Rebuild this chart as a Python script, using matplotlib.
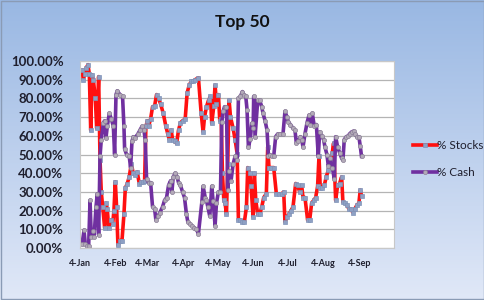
"""Top 50: % Stocks vs % Cash, recreated in matplotlib."""

import matplotlib
import matplotlib.pyplot as plt
import numpy as np
import pandas as pd

matplotlib.use("Agg")

# dias desde el 4 de enero y porcentaje
dias_stocks = [1.7, 2.9, 4.1, 5.2, 6.9, 8.1, 9.3, 10.4, 11.6, 13.3, 14.5, 16.2, 17.4,
               18.5, 19.7, 21.4, 22.6, 23.7, 24.9, 26.6, 28.4, 29.5, 30.7, 31.8, 33.0,
               34.7, 36.5, 38.2, 39.4, 41.1, 42.8, 44.6, 46.3, 48.1, 49.8, 51.5, 53.3,
               55.0, 56.2, 57.3, 58.6, 59.6, 61.4, 63.1, 64.9, 66.6, 68.3, 70.1, 72.4,
               74.7, 76.4, 77.6, 79.3, 80.5, 82.2, 84.0, 85.7, 87.4, 89.2, 91.5, 93.2,
               95.0, 96.7, 98.4, 100.2, 103.0, 105.4, 107.1, 108.3, 110.0, 111.8, 113.5,
               114.6, 116.4, 117.5, 118.7, 120.4, 121.6, 122.8, 123.9, 125.1, 126.2,
               127.4, 128.5, 129.7, 130.9, 133.2, 134.9, 136.7, 137.8, 139.5, 141.3,
               143.0, 144.8, 145.9, 147.7, 148.8, 150.6, 151.7, 152.9, 154.6, 156.3,
               158.1, 159.8, 162.1, 163.3, 164.4, 166.2, 168.5, 170.8, 173.1, 175.4,
               177.2, 178.3, 180.1, 181.8, 183.6, 185.3, 187.6, 189.3, 191.1, 192.8,
               194.0, 195.7, 198.0, 199.8, 201.5, 203.2, 205.0, 206.7, 207.9, 209.0,
               210.8, 212.5, 214.2, 216.0, 217.7, 219.5, 220.6, 222.4, 224.1, 225.8,
               227.6, 228.7, 230.5, 232.2, 233.9, 235.6, 237.4, 239.1, 240.9, 242.6,
               243.8, 244.9]
pct_stocks = [95, 90, 93, 96, 98, 93, 63, 92.5, 90, 80, 64, 91.6, 47,
              30, 22, 11, 24, 21, 11, 15, 13, 20, 35.4, 22, 1.4,
              4, 4, 18, 32, 34.5, 38, 45, 40, 39, 40.7, 34.5, 35.4,
              35.4, 36, 65, 68, 65, 69, 75.5, 76, 82, 80, 77, 72,
              65, 61, 58, 63, 58, 57, 56, 63, 67, 68, 69, 83,
              87, 89, 89, 90, 91, 72, 62, 70, 75.5, 79, 81,
              66.6, 76, 87, 77, 82, 68, 69, 40, 25.5, 24,
              18, 45, 79, 70, 64, 58, 50.5, 15, 15, 14,
              14, 22, 43, 40, 33, 16.6, 40, 25.5, 18, 18,
              22, 27, 29, 54, 43, 43, 43, 29, 29, 29,
              30, 14, 16.6, 18, 20, 22, 34.5, 33.5, 30, 33.5,
              27, 27, 15, 15, 24, 25.5, 27, 33, 49, 32,
              32, 33.5, 38, 41.6, 47, 51, 56, 25.5, 33.5, 34.5,
              38, 24.6, 24, 23, 21, 21, 19, 21, 23, 24,
              31, 28]

dias_cash = [1.7, 3.5, 4.6, 6.4, 7.5, 8.7, 9.8, 11.0, 12.2, 13.9, 15.0, 16.2, 17.4,
             18.5, 20.3, 21.4, 22.6, 23.7, 25.5, 27.2, 29.0, 30.1, 31.3, 32.4, 34.7,
             37.0, 38.2, 38.8, 40.5, 42.8, 44.0, 45.2, 46.3, 48.0, 50.4, 52.1, 53.9,
             55.6, 56.7, 57.9, 59.6, 61.4, 63.1, 64.9, 66.0, 67.7, 69.5, 71.8, 73.5,
             75.3, 77.0, 78.8, 79.9, 81.1, 82.8, 84.5, 85.7, 87.4, 89.2, 90.9, 92.6,
             93.8, 95.5, 97.3, 99.0, 101.3, 103.0, 106.0, 107.1, 108.9, 110.0, 111.2,
             112.9, 114.6, 115.8, 117.5, 118.7, 120.4, 122.2, 123.3, 124.5, 125.7,
             127.4, 128.5, 129.7, 131.4, 133.2, 134.9, 136.7, 137.8, 139.5, 141.3,
             142.4, 144.2, 145.3, 146.5, 148.2, 149.4, 150.6, 151.1, 152.3, 154.6,
             156.3, 158.1, 159.2, 161.0, 162.7, 163.9, 165.0, 166.8, 168.5, 170.2,
             172.0, 174.3, 176.6, 178.3, 180.1, 181.2, 183.0, 185.3, 187.0, 188.2,
             189.9, 191.7, 192.8, 194.0, 195.7, 197.5, 199.2, 200.3, 202.1, 203.8,
             205.6, 207.3, 208.5, 210.2, 211.9, 213.1, 214.8, 216.0, 217.7, 219.5,
             221.2, 222.4, 224.1, 225.8, 227.6, 228.7, 229.9, 231.6, 233.4, 234.5,
             236.2, 238.0, 239.1, 240.9, 242.6, 243.8, 244.9]
pct_cash = [2, 9.5, 2, 1, 1, 25.5, 6, 9, 6, 22, 29, 7, 49,
            58, 67, 68, 59, 65, 72, 69, 65, 50, 82, 84, 82,
            81, 65, 53, 50, 49, 43, 57, 59.5, 59, 61, 63, 65,
            63, 58, 37, 35, 35, 22, 21, 15, 17, 19, 22, 25.5,
            27, 33.5, 36, 30, 38, 40, 38, 35, 33.5, 30, 27, 18,
            14, 13, 12, 11, 10, 7.7, 24.6, 33, 27, 25.5, 22,
            17, 33, 25, 12, 24, 30, 30, 67.5, 73, 75.5,
            75.5, 31, 41, 36, 45, 49, 47, 80, 81, 83.6,
            82, 81, 74, 54, 58.5, 66.6, 64, 81, 59.5, 79,
            79, 75.5, 72, 68, 63, 49, 50, 49, 49, 59.5,
            61, 61, 61, 73, 70, 67.5, 66, 64, 63, 56,
            57, 59.5, 58, 54, 61, 67, 71, 66, 72, 65,
            66, 49, 62, 60, 58, 54, 50, 44, 48, 43,
            37, 59.5, 54, 51, 48, 47, 58, 59.5, 60, 61,
            62, 62.5, 61, 59.5, 59.5, 54.5, 49]

inicio = pd.Timestamp("2010-01-04")
fin_eje = pd.Timestamp("2010-10-04")
etiquetas_x = ["4-Jan", "4-Feb", "4-Mar", "4-Apr", "4-May", "4-Jun", "4-Jul",
               "4-Aug", "4-Sep"]

fechas_stocks = inicio + pd.to_timedelta(dias_stocks, unit="D")
fechas_cash = inicio + pd.to_timedelta(dias_cash, unit="D")
ticks_x = [inicio + pd.DateOffset(months=i) for i in range(len(etiquetas_x))]

plt.rcParams["font.family"] = ["Lato", "DejaVu Sans"]

fig = plt.figure(figsize=(4.85, 3.0), dpi=100)

# fondo degradado azul
fondo = fig.add_axes([0, 0, 1, 1], zorder=-10)
grad = np.linspace(0, 1, 256).reshape(-1, 1)
c_arriba = np.array([0.60, 0.72, 0.89])
c_abajo = np.array([0.88, 0.91, 0.97])
img = c_arriba + (c_abajo - c_arriba) * grad[:, :, None]
fondo.imshow(img, aspect="auto", extent=[0, 1, 0, 1], origin="upper")
fondo.add_patch(plt.Rectangle((0.002, 0.003), 0.995, 0.993, fill=False,
                              edgecolor="#8a9bb5", linewidth=1.0))
fondo.set_xlim(0, 1)
fondo.set_ylim(0, 1)
fondo.axis("off")

ax = fig.add_axes([0.165, 0.173, 0.647, 0.624])
ax.set_facecolor("white")

ax.plot(fechas_stocks, pct_stocks, color="#ff1010", linewidth=2.6,
        marker="s", markersize=2.6, markerfacecolor="#8ea0c4",
        markeredgecolor="#7f93b8", markeredgewidth=0.5, label="% Stocks")
ax.plot(fechas_cash, pct_cash, color="#7030a0", linewidth=2.6,
        marker="o", markersize=3.0, markerfacecolor="#b3aab8",
        markeredgecolor="#8a7f96", markeredgewidth=0.5, label="% Cash")

ax.set_ylim(0, 100)
ax.set_xlim(inicio, fin_eje)
ax.set_yticks(np.arange(0, 101, 10))
ax.set_yticklabels([f"{v:.2f}%" for v in np.arange(0, 101, 10)],
                   fontsize=9.5, fontweight="bold", color="#1f1f2e")
ax.yaxis.grid(True, color="#b4b4b4", linewidth=0.9)
ax.set_axisbelow(True)

ax.set_xticks(ticks_x)
ax.set_xticklabels(etiquetas_x, fontsize=6.5, fontweight="bold", color="#1f1f2e")
ax.tick_params(axis="y", length=0, pad=12)
ax.tick_params(axis="x", length=0, pad=8)

for lado in ax.spines.values():
    lado.set_color("#c8c8c8")
    lado.set_linewidth(0.8)

fig.suptitle("Top 50", x=0.5, y=0.955, fontsize=12.5, fontweight="bold",
             color="#111111")

fig.legend(loc="center left", bbox_to_anchor=(0.83, 0.47), frameon=False,
           fontsize=8.5, handlelength=2.0, handletextpad=0.0, labelspacing=1.4,
           labelcolor="#1f1f2e")

fig.savefig("out.png", dpi=100)
plt.close(fig)
